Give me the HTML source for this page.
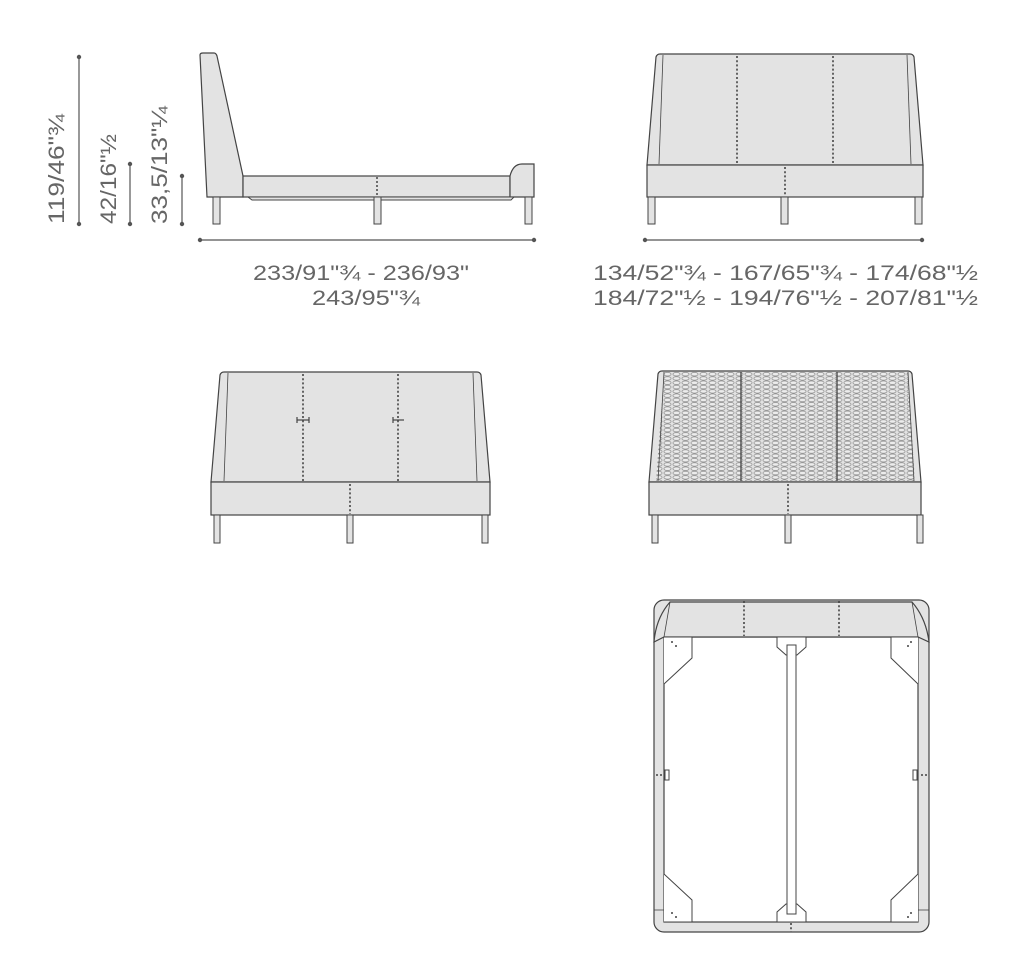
<!DOCTYPE html>
<html><head><meta charset="utf-8"><style>
html,body{margin:0;padding:0;background:#fff;}
svg{display:block;}
text{font-family:"Liberation Sans",sans-serif;fill:#666;font-weight:normal;}
</style></head><body>
<svg width="1024" height="978" viewBox="0 0 1024 978" xmlns="http://www.w3.org/2000/svg">
<defs>
<pattern id="mesh" x="663" y="372" width="9" height="4.3" patternUnits="userSpaceOnUse">
<rect width="9" height="4.3" fill="#e2e2e2"/>
<ellipse cx="4.5" cy="2.15" rx="3.6" ry="1.8" fill="#ececec" stroke="#8a8a8a" stroke-width="0.7"/>
</pattern>
</defs>
<g stroke="#444" fill="#e3e3e3" stroke-width="1.2">
<path d="M200,55 Q200,53 203,53 L214,53 Q216,53 217,56 L243,176 L243,197 L207,197 Z"/>
<rect x="243" y="176" width="267" height="21"/>
<path d="M510,176 Q513,164 522,164 L534,164 L534,197 L510,197 Z"/>
<path d="M248,197 L514,197 L511,200 L252,200 Z" stroke-width="1"/>
<rect x="213" y="197" width="7" height="27" stroke-width="1"/>
<rect x="374" y="197" width="7" height="27" stroke-width="1"/>
<rect x="525" y="197" width="7" height="27" stroke-width="1"/>
</g>
<line x1="377" y1="177" x2="377" y2="196" stroke="#444" stroke-width="1.5" stroke-dasharray="2,2"/>
<g stroke="#555" stroke-width="1.2" fill="#555">
<line x1="79" y1="57" x2="79" y2="224"/><circle cx="79" cy="57" r="1.6"/><circle cx="79" cy="224" r="1.6"/>
<line x1="130" y1="164" x2="130" y2="224"/><circle cx="130" cy="164" r="1.6"/><circle cx="130" cy="224" r="1.6"/>
<line x1="182" y1="176" x2="182" y2="224"/><circle cx="182" cy="176" r="1.6"/><circle cx="182" cy="224" r="1.6"/>
<line x1="200" y1="240" x2="534" y2="240"/><circle cx="200" cy="240" r="1.6"/><circle cx="534" cy="240" r="1.6"/>
<line x1="645" y1="240" x2="922" y2="240"/><circle cx="645" cy="240" r="1.6"/><circle cx="922" cy="240" r="1.6"/>
</g>
<text transform="translate(64,224) rotate(-90)" font-size="22" textLength="110" lengthAdjust="spacingAndGlyphs">119/46"¾</text>
<text transform="translate(116,224) rotate(-90)" font-size="22" textLength="90" lengthAdjust="spacingAndGlyphs">42/16"½</text>
<text transform="translate(167,224) rotate(-90)" font-size="22" textLength="118" lengthAdjust="spacingAndGlyphs">33,5/13"¼</text>
<text x="253" y="280" font-size="21" textLength="216" lengthAdjust="spacingAndGlyphs">233/91"¾ - 236/93"</text>
<text x="312" y="305" font-size="21" textLength="108" lengthAdjust="spacingAndGlyphs">243/95"¾</text>
<text x="593" y="280" font-size="21" textLength="385" lengthAdjust="spacingAndGlyphs">134/52"¾ - 167/65"¾ - 174/68"½</text>
<text x="593" y="305" font-size="21" textLength="385" lengthAdjust="spacingAndGlyphs">184/72"½ - 194/76"½ - 207/81"½</text>

<g stroke="#444" fill="#e3e3e3" stroke-width="1.2">
<path d="M647,165 L656,57 Q657,54 660,54 L910,54 Q913,54 914,57 L923,165 Z"/>
<line x1="663" y1="55" x2="659" y2="164" stroke-width="0.8"/>
<line x1="907" y1="55" x2="911" y2="164" stroke-width="0.8"/>
<rect x="647" y="165" width="276" height="32"/>
<rect x="648" y="197" width="7" height="27" stroke-width="1"/>
<rect x="781" y="197" width="7" height="27" stroke-width="1"/>
<rect x="915" y="197" width="7" height="27" stroke-width="1"/>
</g>
<g stroke="#444" stroke-width="1.6" stroke-dasharray="2,2.2">
<line x1="737" y1="56" x2="737" y2="164"/><line x1="833" y1="56" x2="833" y2="164"/>
<line x1="785" y1="167" x2="785" y2="196"/>
</g>

<g stroke="#444" fill="#e3e3e3" stroke-width="1.2">
<path d="M211,482 L220,375 Q221,372 224,372 L477,372 Q480,372 481,375 L490,482 Z"/>
<line x1="228" y1="373" x2="224" y2="481" stroke-width="0.8"/>
<line x1="473" y1="373" x2="477" y2="481" stroke-width="0.8"/>
<rect x="211" y="482" width="279" height="33"/>
<rect x="214" y="515" width="6" height="28" stroke-width="1"/>
<rect x="347" y="515" width="6" height="28" stroke-width="1"/>
<rect x="482" y="515" width="6" height="28" stroke-width="1"/>
</g>
<g stroke="#444" stroke-width="1.6" stroke-dasharray="2,2.2">
<line x1="303" y1="374" x2="303" y2="481"/><line x1="398" y1="374" x2="398" y2="481"/>
<line x1="350" y1="484" x2="350" y2="514"/>
</g>
<g stroke="#444" stroke-width="1.2">
<line x1="297" y1="420" x2="309" y2="420"/><line x1="297" y1="417" x2="297" y2="423"/><line x1="309" y1="417" x2="309" y2="423"/>
<line x1="393" y1="420" x2="404" y2="420"/><line x1="393" y1="417" x2="393" y2="423"/>
</g>

<g stroke="#444" fill="#e3e3e3" stroke-width="1.2">
<path d="M649,482 L658,374 Q659,371 662,371 L908,371 Q911,371 912,374 L921,482 Z"/>
<path d="M664,372 L908,372 L915,481 L656,481 Z" fill="url(#mesh)" stroke="none"/>
<line x1="664" y1="372" x2="658" y2="481" stroke-width="0.8"/>
<line x1="908" y1="372" x2="914" y2="481" stroke-width="0.8"/>
<line x1="741" y1="372" x2="741" y2="481" stroke-width="1.3"/>
<line x1="837" y1="372" x2="837" y2="481" stroke-width="1.3"/>
<rect x="649" y="482" width="272" height="33"/>
<rect x="652" y="515" width="6" height="28" stroke-width="1"/>
<rect x="785" y="515" width="6" height="28" stroke-width="1"/>
<rect x="917" y="515" width="6" height="28" stroke-width="1"/>
</g>
<line x1="788" y1="484" x2="788" y2="514" stroke="#444" stroke-width="1.6" stroke-dasharray="2,2.2"/>

<g stroke="#444" fill="#e3e3e3" stroke-width="1.2">
<rect x="654" y="600" width="275" height="332" rx="10"/>
<rect x="664" y="637" width="254" height="285" fill="#fff"/>
<path d="M654,642 Q656,618 670,602 L912,602 Q926,618 929,642 L918,637 L664,637 Z"/>
<path d="M670,602 L664,637 M912,602 L918,637" fill="none" stroke-width="0.8"/>
<line x1="664" y1="910" x2="654" y2="910" stroke-width="0.8"/>
<line x1="918" y1="910" x2="929" y2="910" stroke-width="0.8"/>
<g fill="#fff" stroke-width="1">
<path d="M664,637 L692,637 L692,658 L664,684"/>
<path d="M918,637 L891,637 L891,658 L918,684"/>
<path d="M664,922 L692,922 L692,900 L664,874"/>
<path d="M918,922 L891,922 L891,900 L918,874"/>
<path d="M777,637 L806,637 L806,647 L797,655 L786,655 L777,647 Z"/>
<path d="M777,922 L806,922 L806,912 L797,904 L786,904 L777,912 Z"/>
<rect x="787" y="645" width="9" height="269"/>
<rect x="665" y="770" width="4" height="10"/>
<rect x="913" y="770" width="4" height="10"/>
</g>
</g>
<g stroke="#444" stroke-width="1.6" stroke-dasharray="2,2.2">
<line x1="744" y1="601" x2="744" y2="636"/><line x1="839" y1="601" x2="839" y2="636"/>
<line x1="791" y1="923" x2="791" y2="932"/>
</g>
<g fill="#444">
<circle cx="672" cy="642" r="1"/><circle cx="676" cy="646" r="1"/>
<circle cx="911" cy="642" r="1"/><circle cx="908" cy="646" r="1"/>
<circle cx="672" cy="913" r="1"/><circle cx="676" cy="917" r="1"/>
<circle cx="911" cy="913" r="1"/><circle cx="908" cy="917" r="1"/>
<circle cx="657" cy="775" r="1"/><circle cx="661" cy="775" r="1"/>
<circle cx="922" cy="775" r="1"/><circle cx="926" cy="775" r="1"/>
</g>
</svg>
</body></html>
